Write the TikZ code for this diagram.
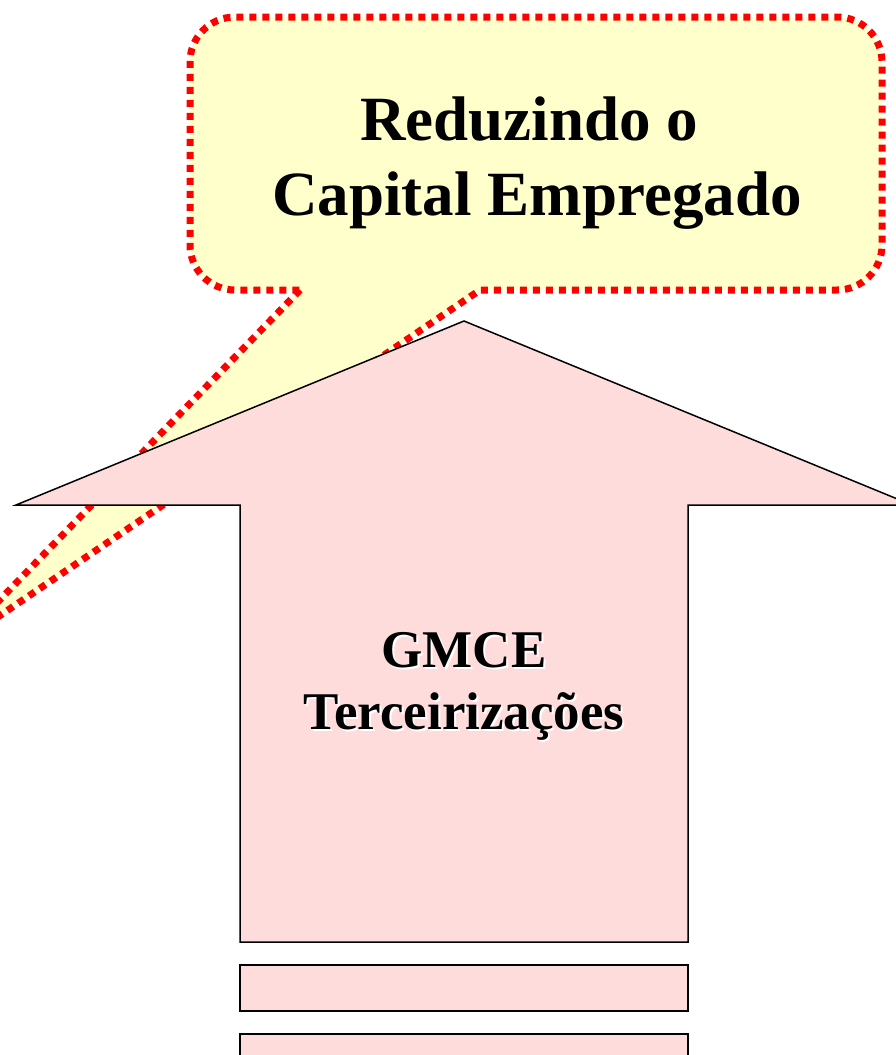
\documentclass[tikz,border=0pt]{standalone}
\usepackage{fontspec}
\setmainfont{Liberation Serif}

\begin{document}
\begin{tikzpicture}[x=1pt, y=-1pt, line join=miter]
\tikzstyle{callout} = [draw=red, fill=calloutfill, line width=7pt, dash pattern=on 7pt off 6pt]
\tikzstyle{arrowpart} = [draw=black, fill=arrowfill, line width=1.5pt]
\tikzstyle{t} = [inner sep=0pt, align=center, font=\bfseries]
\definecolor{calloutfill}{RGB}{255,255,204}
\definecolor{arrowfill}{RGB}{255,220,220}

\clip (0,0) rectangle (896,1055);

% speech bubble with its tail running off to the left
\draw[callout] (300,290) -- (-45,646) -- (480,290) [rounded corners=45pt] -- (882,290) -- (882,17) -- (190,17) -- (190,290) [sharp corners] -- cycle;
\node[t, font=\bfseries\fontsize{63}{75}\selectfont] (title) at (537,163) {Reduzindo o\kern.25em\\Capital Empregado};

% big arrow and the bars below it
\draw[arrowpart] (464,321) -- (912,505) -- (688,505) -- (688,942) -- (240,942) -- (240,505) -- (16,505) -- cycle;
\draw[arrowpart] (240,965) rectangle (688,1011);
\draw[arrowpart] (240,1034) rectangle (688,1080);

\node[t, white, font=\bfseries\fontsize{53}{62}\selectfont] (labelshadow) at (466,688) {GMCE\\Terceirizações};
\node[t, font=\bfseries\fontsize{53}{62}\selectfont] (label) at (464,686) {GMCE\\Terceirizações};
\end{tikzpicture}
\end{document}
